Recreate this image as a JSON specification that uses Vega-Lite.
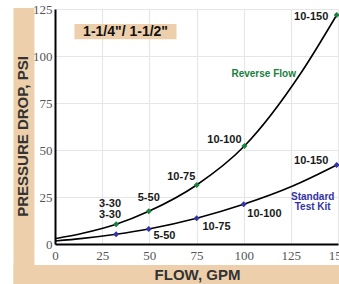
{
  "$schema": "https://vega.github.io/schema/vega-lite/v6.json",
  "width": 283,
  "height": 235,
  "autosize": {"type": "none"},
  "padding": {"left": 55, "top": 9, "right": 1, "bottom": 40},
  "background": "white",
  "config": {"view": {"stroke": null}},
  "resolve": {"axis": {"x": "independent", "y": "independent"}},
  "datasets": {
    "bands": [
      {"x0": -22, "x1": -10.9, "y0": -21.5, "y1": 125.5},
      {"x0": -22, "x1": 152, "y0": -21.5, "y1": -11.2},
      {"x0": 10.3, "x1": 64.4, "y0": 108.9, "y1": 117}
    ],
    "curves": [
      {"series": "Reverse Flow", "gpm": 0, "psi": 2.8, "marker": false},
      {"series": "Reverse Flow", "gpm": 14.7, "psi": 5.7, "marker": false},
      {"series": "Reverse Flow", "gpm": 32.4, "psi": 10.5, "marker": true},
      {"series": "Reverse Flow", "gpm": 49.7, "psi": 17.4, "marker": true},
      {"series": "Reverse Flow", "gpm": 75.1, "psi": 31.4, "marker": true},
      {"series": "Reverse Flow", "gpm": 100.4, "psi": 52.1, "marker": true},
      {"series": "Reverse Flow", "gpm": 130, "psi": 90.4, "marker": false},
      {"series": "Reverse Flow", "gpm": 149.3, "psi": 121.8, "marker": true},
      {"series": "Standard Test Kit", "gpm": 0, "psi": 1.6, "marker": false},
      {"series": "Standard Test Kit", "gpm": 14.7, "psi": 3.0, "marker": false},
      {"series": "Standard Test Kit", "gpm": 32.4, "psi": 5.2, "marker": true},
      {"series": "Standard Test Kit", "gpm": 49.7, "psi": 8.0, "marker": true},
      {"series": "Standard Test Kit", "gpm": 75.1, "psi": 13.7, "marker": true},
      {"series": "Standard Test Kit", "gpm": 100, "psi": 21.1, "marker": true},
      {"series": "Standard Test Kit", "gpm": 126, "psi": 30.8, "marker": false},
      {"series": "Standard Test Kit", "gpm": 149.3, "psi": 42, "marker": true}
    ],
    "labels": [
      {"gpm": 29.2, "psi": 21.4, "text": "3-30"},
      {"gpm": 29.2, "psi": 15.4, "text": "3-30"},
      {"gpm": 49.7, "psi": 24.6, "text": "5-50"},
      {"gpm": 58, "psi": 4.3, "text": "5-50"},
      {"gpm": 66.9, "psi": 35.5, "text": "10-75"},
      {"gpm": 85.6, "psi": 9, "text": "10-75"},
      {"gpm": 89.8, "psi": 55.3, "text": "10-100"},
      {"gpm": 111, "psi": 16, "text": "10-100"},
      {"gpm": 135.8, "psi": 120.7, "text": "10-150"},
      {"gpm": 135.8, "psi": 44.3, "text": "10-150"}
    ],
    "notes": [
      {"gpm": 110.6, "psi": 90.4, "text": "Reverse Flow", "series": "Reverse Flow"},
      {"gpm": 136.6, "psi": 25, "text": "Standard\nTest Kit", "series": "Standard Test Kit"}
    ]
  },
  "layer": [
    {
      "data": {"name": "curves"},
      "mark": {"type": "line", "interpolate": "monotone", "color": "#000000", "strokeWidth": 1.6},
      "encoding": {
        "x": {
          "field": "gpm", "type": "quantitative",
          "scale": {"domain": [0, 150], "nice": false, "zero": false},
          "axis": {
            "orient": "top", "title": null, "labels": false, "ticks": false, "domain": false,
            "values": [0, 25, 50, 75, 100, 125, 150],
            "grid": true, "gridColor": "#e6e6e6", "gridWidth": 1.2, "zindex": 0
          }
        },
        "y": {
          "field": "psi", "type": "quantitative",
          "scale": {"domain": [0, 125], "nice": false, "zero": false},
          "axis": {
            "orient": "right", "title": null, "labels": false, "ticks": false, "domain": false,
            "values": [0, 25, 50, 75, 100, 125],
            "grid": true, "gridColor": "#e6e6e6", "gridWidth": 1.2, "zindex": 0
          }
        },
        "detail": {"field": "series"}
      }
    },
    {
      "data": {"name": "bands"},
      "mark": {"type": "rect", "clip": false, "color": "#EDCFAB"},
      "encoding": {
        "x": {
          "field": "x0", "type": "quantitative",
          "axis": {
            "orient": "bottom",
            "title": "FLOW, GPM",
            "values": [0, 25, 50, 75, 100, 125, 150],
            "grid": false,
            "ticks": false,
            "domainColor": "#000000", "domainWidth": 2,
            "labelFont": "Liberation Sans Narrow", "labelFontSize": 13, "labelColor": "#555555",
            "labelPadding": 5, "labelFlush": false,
            "titleFont": "Liberation Sans", "titleFontSize": 15, "titleFontWeight": "bold", "titleColor": "#333333",
            "titleBaseline": "alphabetic", "titleY": 35, "titleX": 142,
            "zindex": 1
          }
        },
        "x2": {"field": "x1"},
        "y": {
          "field": "y0", "type": "quantitative",
          "axis": {
            "orient": "left",
            "title": "PRESSURE DROP, PSI",
            "values": [0, 25, 50, 75, 100, 125],
            "grid": false,
            "ticks": false,
            "domainColor": "#000000", "domainWidth": 2,
            "labelFont": "Liberation Sans Narrow", "labelFontSize": 13, "labelColor": "#555555",
            "labelPadding": 3, "labelFlush": false,
            "titleFont": "Liberation Sans", "titleFontSize": 15, "titleFontWeight": "bold", "titleColor": "#333333",
            "titleBaseline": "alphabetic", "titleX": -28, "titleY": 127, "titleAlign": "center", "titleAngle": -90,
            "zindex": 1
          }
        },
        "y2": {"field": "y1"}
      }
    },
    {
      "mark": {"type": "text", "text": "1-1/4\"/ 1-1/2\"", "font": "Liberation Sans", "fontSize": 14, "fontWeight": "bold", "color": "#111111", "baseline": "middle"},
      "data": {"values": [{"gpm": 37.4, "psi": 113}]},
      "encoding": {
        "x": {"field": "gpm", "type": "quantitative", "axis": null},
        "y": {"field": "psi", "type": "quantitative", "axis": null}
      }
    },
    {
      "data": {"name": "curves"},
      "transform": [{"filter": "datum.marker"}],
      "mark": {"type": "point", "shape": "diamond", "filled": true, "size": 36, "opacity": 1},
      "encoding": {
        "x": {"field": "gpm", "type": "quantitative", "axis": null},
        "y": {"field": "psi", "type": "quantitative", "axis": null},
        "color": {"field": "series", "type": "nominal", "scale": {"domain": ["Reverse Flow", "Standard Test Kit"], "range": ["#18803f", "#3434a6"]}, "legend": null}
      }
    },
    {
      "data": {"name": "labels"},
      "mark": {"type": "text", "font": "Liberation Sans", "fontSize": 11, "fontWeight": "bold", "color": "#1a1a1a", "baseline": "middle"},
      "encoding": {
        "x": {"field": "gpm", "type": "quantitative", "axis": null},
        "y": {"field": "psi", "type": "quantitative", "axis": null},
        "text": {"field": "text"}
      }
    },
    {
      "data": {"name": "notes"},
      "mark": {"type": "text", "font": "Liberation Sans", "fontSize": 10, "fontWeight": "bold", "baseline": "middle", "lineBreak": "\n", "lineHeight": 9.5},
      "encoding": {
        "x": {"field": "gpm", "type": "quantitative", "axis": null},
        "y": {"field": "psi", "type": "quantitative", "axis": null},
        "text": {"field": "text"},
        "color": {"field": "series", "type": "nominal", "legend": null}
      }
    }
  ]
}
